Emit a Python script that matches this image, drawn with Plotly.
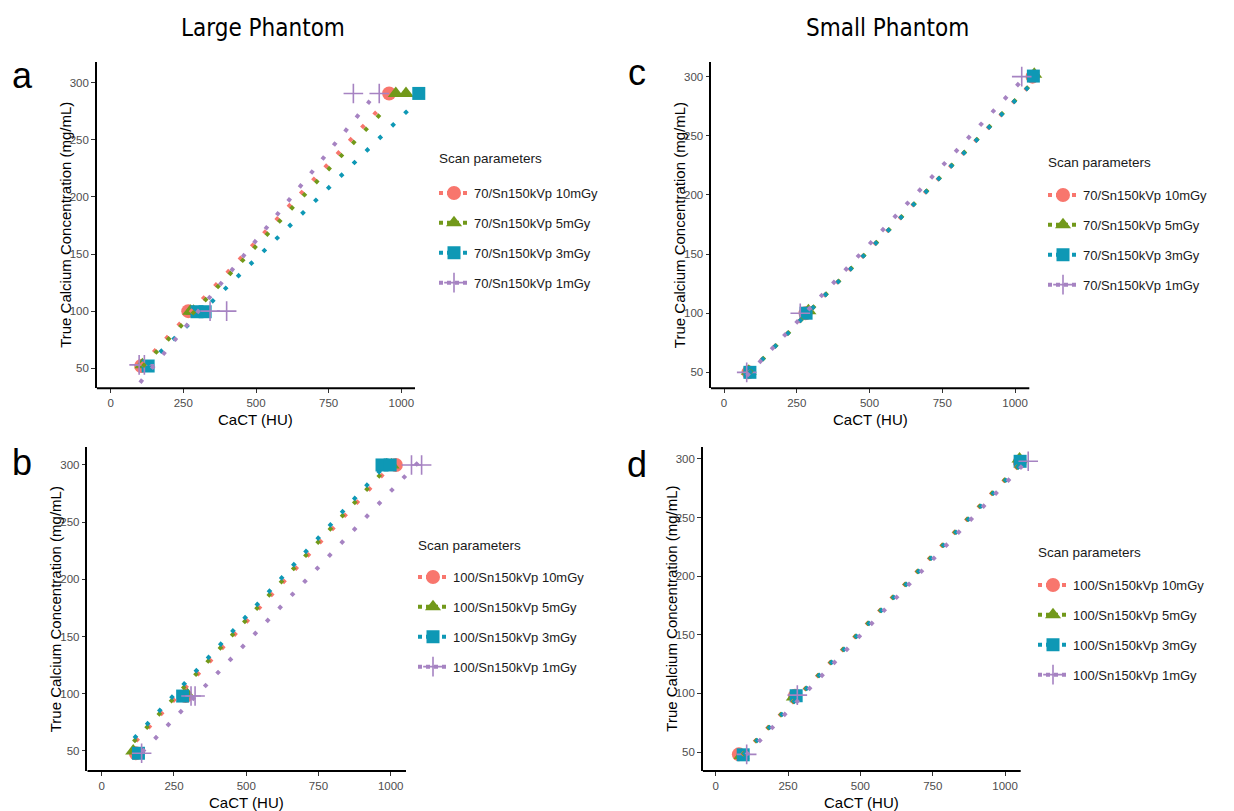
import plotly.graph_objects as go

# ---------------- data ----------------
names_70 = ["70/Sn150kVp 10mGy", "70/Sn150kVp 5mGy", "70/Sn150kVp 3mGy", "70/Sn150kVp 1mGy"]
names_100 = ["100/Sn150kVp 10mGy", "100/Sn150kVp 5mGy", "100/Sn150kVp 3mGy", "100/Sn150kVp 1mGy"]
colors = ["#F8766D", "#72991A", "#0E98B5", "#A683C2"]
symbols = ["circle", "triangle-up", "square", "cross-thin"]
x_ticks = [0, 250, 500, 750, 1000]
y_ticks = [50, 100, 150, 200, 250, 300]

# Panel a: Large phantom, 70/Sn150 kVp
a_pts_x = [[105, 267, 958], [109, 274, 285, 981, 1016], [129, 297, 325, 1060], [98, 116, 342, 399, 835, 924]]
a_pts_y = [[52, 100, 290.5], [53, 100, 100, 290.5, 290.5], [52, 99.5, 99.5, 290.5], [53, 53, 100, 100, 290.5, 290.5]]
a_fit_x = [[105, 915], [110, 932], [125, 1022], [101, 892]]
a_fit_y = [[52.5, 274.5], [51.5, 273.5], [52.8, 275.5], [37.4, 284]]

# Panel b: Large phantom, 100/Sn150 kVp
b_pts_x = [[118, 290, 1018], [109, 294, 986, 1003], [127, 280, 970, 998], [138, 309, 323, 1072, 1107]]
b_pts_y = [[48, 98, 300], [50, 100, 300, 300], [48, 98, 300, 300], [48, 98, 98, 300, 300]]
b_fit_x = [[118, 1000], [110, 990], [112, 975], [140, 1100]]
b_fit_y = [[58.5, 299], [58, 298.5], [61, 298], [49, 303.5]]

# Panel c: Small phantom, 70/Sn150 kVp
c_pts_x = [[84, 280, 1060], [85, 290, 1066], [89, 282, 1063], [78, 262, 1023]]
c_pts_y = [[50, 100, 300], [51, 102, 302], [50, 100, 300.5], [50, 100, 300]]
c_fit_x = [[83, 1050], [87, 1060], [85, 1063], [78, 1023]]
c_fit_y = [[49, 292.5], [49.5, 295], [49.2, 295.6], [46.9, 296.7]]

# Panel d: Small phantom, 100/Sn150 kVp
d_pts_x = [[80, 274, 1051], [89, 270, 1050], [95, 278, 1052], [107, 282, 1080]]
d_pts_y = [[48, 98, 297.5], [47, 97, 300], [47.6, 98, 298], [48, 98.5, 298]]
d_fit_x = [[90, 1050], [92, 1052], [95, 1057], [105, 1067]]
d_fit_y = [[47.3, 295.5], [47.4, 295.7], [47.5, 296], [47.5, 296.2]]

# ---------------- layout geometry (target-image pixels) ----------------
OFF = 8                      # page body margin offset
FW, FH = 1234 - OFF, 811 - OFF


def px_x(v):
    return (v - OFF) / FW


def px_y(v):
    return 1 - (v - OFF) / FH


panels = [
    dict(key="a", pts=(a_pts_x, a_pts_y), fit=(a_fit_x, a_fit_y), names=names_70,
         l=96.7, r=415.0, t=62, b=388.3, xmin=-48, xend=1047, ymin=32.5, ymax=318,
         leg_x=434, leg_title_y=159, leg_y=178, let_x=22, let_y=75),
    dict(key="b", pts=(b_pts_x, b_pts_y), fit=(b_fit_x, b_fit_y), names=names_100,
         l=87.3, r=406.0, t=447, b=771, xmin=-50, xend=1053, ymin=32.5, ymax=315.7,
         leg_x=413, leg_title_y=545, leg_y=562, let_x=22, let_y=462),
    dict(key="c", pts=(c_pts_x, c_pts_y), fit=(c_fit_x, c_fit_y), names=names_70,
         l=711.0, r=1029.3, t=62, b=388.3, xmin=-44.7, xend=1049, ymin=36.5, ymax=312.4,
         leg_x=1043, leg_title_y=162, leg_y=180, let_x=637, let_y=73),
    dict(key="d", pts=(d_pts_x, d_pts_y), fit=(d_fit_x, d_fit_y), names=names_100,
         l=702.7, r=1020.7, t=447, b=771, xmin=-45, xend=1054, ymin=33.8, ymax=310.2,
         leg_x=1033, leg_title_y=552, leg_y=570, let_x=637, let_y=464),
]
XMAX_EXT = 1130

fig = go.Figure()
shapes = []
annotations = []
tick_font = dict(family="Liberation Sans, Arial", size=11.5, color="#4D4D4D")
sizes = [14, 14, 13, 14]

for i, p in enumerate(panels):
    n = i + 1
    xa = "x" if n == 1 else f"x{n}"
    ya = "y" if n == 1 else f"y{n}"
    leg = "legend" if n == 1 else f"legend{n}"
    scale = (p["r"] - p["l"]) / (p["xend"] - p["xmin"])
    right_px = p["l"] + (XMAX_EXT - p["xmin"]) * scale
    xkey = "xaxis" if n == 1 else f"xaxis{n}"
    ykey = "yaxis" if n == 1 else f"yaxis{n}"
    fig.layout[xkey] = dict(
        domain=[px_x(p["l"]), px_x(right_px)], range=[p["xmin"], XMAX_EXT], anchor=ya,
        showgrid=False, zeroline=False, showline=False,
        tickmode="array", tickvals=x_ticks, ticks="outside", ticklen=4, tickwidth=1.2,
        tickcolor="#333333", tickfont=tick_font,
    )
    fig.layout[ykey] = dict(
        domain=[px_y(p["b"]), px_y(p["t"])], range=[p["ymin"], p["ymax"]], anchor=xa,
        showgrid=False, zeroline=False, showline=True, linecolor="black", linewidth=2,
        tickmode="array", tickvals=y_ticks, ticks="outside", ticklen=3.5, tickwidth=1.2,
        tickcolor="#333333", tickfont=tick_font,
    )
    # x axis line (only up to the panel edge)
    shapes.append(dict(type="line", xref=xa, yref=f"{ya} domain", x0=p["xmin"], x1=p["xend"],
                       y0=0, y1=0, line=dict(color="black", width=2)))

    px_, py_ = p["pts"]
    fx_, fy_ = p["fit"]
    for s in range(4):
        mk = dict(symbol=symbols[s], color=colors[s], size=sizes[s])
        if symbols[s] == "cross-thin":
            mk["line"] = dict(color=colors[s], width=1.6)
        fig.add_trace(go.Scatter(x=px_[s], y=py_[s], mode="markers", marker=mk,
                                 xaxis=xa, yaxis=ya, showlegend=False, cliponaxis=False,
                                 hoverinfo="x+y"))
    for s in range(4):
        fig.add_trace(go.Scatter(x=fx_[s], y=fy_[s], mode="lines",
                                 line=dict(color=colors[s], width=4, dash="4px,14px"),
                                 xaxis=xa, yaxis=ya, showlegend=False, hoverinfo="skip"))
    for s in range(4):
        mk = dict(symbol=symbols[s], color=colors[s], size=sizes[s])
        if symbols[s] == "cross-thin":
            mk["line"] = dict(color=colors[s], width=1.6)
        fig.add_trace(go.Scatter(x=[None], y=[None], mode="lines+markers", name=p["names"][s],
                                 marker=mk, line=dict(color=colors[s], width=4, dash="4px,4px"),
                                 xaxis=xa, yaxis=ya, legend=leg, legendgroup=f"{p['key']}{s}",
                                 showlegend=True))
    fig.layout[leg] = dict(x=px_x(p["leg_x"]), y=px_y(p["leg_y"]), xanchor="left", yanchor="top",
                           font=dict(family="Liberation Sans, Arial", size=13, color="#1A1A1A"),
                           tracegroupgap=10, bgcolor="rgba(0,0,0,0)", itemclick=False)
    annotations.append(dict(text="Scan parameters", xref="paper", yref="paper",
                            x=px_x(p["leg_x"] + 3), y=px_y(p["leg_title_y"]),
                            xanchor="left", yanchor="middle", showarrow=False,
                            font=dict(family="Liberation Sans, Arial", size=13.5, color="#1A1A1A")))
    # axis titles
    cx = (p["l"] + p["r"]) / 2
    annotations.append(dict(text="CaCT (HU)", xref="paper", yref="paper",
                            x=px_x(cx), y=px_y(p["b"] + 31), xanchor="center", yanchor="middle",
                            showarrow=False, font=dict(family="Liberation Sans, Arial", size=15, color="black")))
    annotations.append(dict(text="True Calcium Concentration (mg/mL)", xref="paper", yref="paper",
                            x=px_x(p["l"] - 32), y=px_y((p["t"] + p["b"]) / 2),
                            xanchor="center", yanchor="middle", textangle=-90, showarrow=False,
                            font=dict(family="Liberation Sans, Arial", size=15, color="black")))
    # panel letter
    annotations.append(dict(text=p["key"], xref="paper", yref="paper",
                            x=px_x(p["let_x"]), y=px_y(p["let_y"]),
                            xanchor="center", yanchor="middle", showarrow=False,
                            font=dict(family="Liberation Sans, Arial", size=36, color="black")))

for txt, cx in [("Large Phantom", 263), ("Small Phantom", 887)]:
    annotations.append(dict(text=txt, xref="paper", yref="paper", x=px_x(cx), y=px_y(28),
                            xanchor="center", yanchor="middle", showarrow=False,
                            font=dict(family="DejaVu Sans Condensed, Liberation Sans Narrow, Liberation Sans",
                                      size=24, color="black")))

fig.update_layout(width=FW, height=FH, margin=dict(l=0, r=0, t=0, b=0),
                  paper_bgcolor="white", plot_bgcolor="rgba(0,0,0,0)",
                  shapes=shapes, annotations=annotations, showlegend=True)

fig.write_html("out.html")
